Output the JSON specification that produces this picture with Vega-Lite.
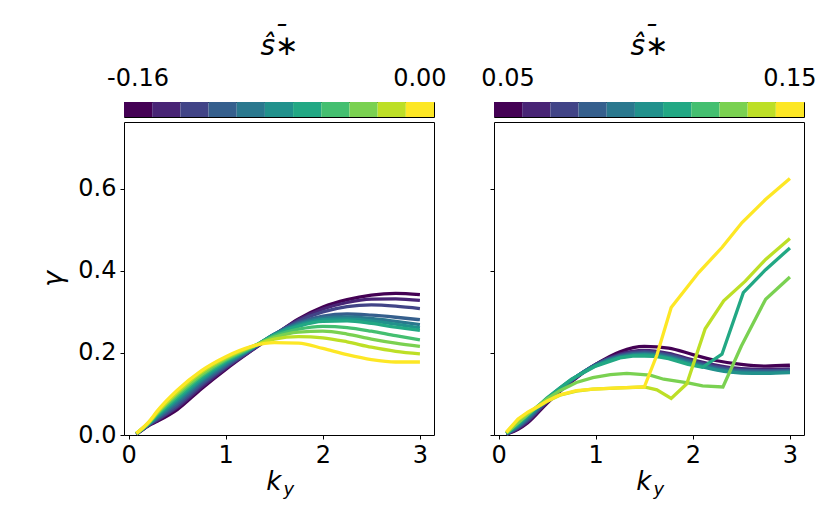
{
  "$schema": "https://vega.github.io/schema/vega-lite/v6.json",
  "background": "white",
  "padding": {"left": 39, "top": 21, "right": 5, "bottom": 5},
  "config": {
    "font": "DejaVu Sans",
    "view": {"stroke": "black", "strokeWidth": 1},
    "axis": {
      "grid": false, "domain": false,
      "tickColor": "black", "tickSize": 4, "tickWidth": 1,
      "labelColor": "black", "labelFontSize": 24, "labelFont": "DejaVu Sans", "labelPadding": 4,
      "titleFont": "DejaVu Sans", "titleColor": "black", "titleFontWeight": "normal"
    },
    "text": {"font": "DejaVu Sans", "fontStyle": "italic", "color": "black"}
  },
  "datasets": {
    "cbL": [{"s": -0.16}, {"s": -0.144}, {"s": -0.128}, {"s": -0.112}, {"s": -0.096}, {"s": -0.08}, {"s": -0.064}, {"s": -0.048}, {"s": -0.032}, {"s": -0.016}, {"s": 0}],
    "cbR": [{"s": 0.05}, {"s": 0.06}, {"s": 0.07}, {"s": 0.08}, {"s": 0.09}, {"s": 0.1}, {"s": 0.11}, {"s": 0.12}, {"s": 0.13}, {"s": 0.14}, {"s": 0.15}],
    "lab": [{"k": "k", "sub": "y"}],
    "L": [
      {"s": -0.16, "k": 0.08, "g": 0.002}, {"s": -0.16, "k": 0.2, "g": 0.022}, {"s": -0.16, "k": 0.3, "g": 0.034}, {"s": -0.16, "k": 0.5, "g": 0.062}, {"s": -0.16, "k": 0.75, "g": 0.113}, {"s": -0.16, "k": 1, "g": 0.16}, {"s": -0.16, "k": 1.25, "g": 0.203}, {"s": -0.16, "k": 1.5, "g": 0.243}, {"s": -0.16, "k": 1.75, "g": 0.283}, {"s": -0.16, "k": 2, "g": 0.312}, {"s": -0.16, "k": 2.25, "g": 0.33}, {"s": -0.16, "k": 2.5, "g": 0.341}, {"s": -0.16, "k": 2.75, "g": 0.345}, {"s": -0.16, "k": 3, "g": 0.342},
      {"s": -0.144, "k": 0.08, "g": 0.002}, {"s": -0.144, "k": 0.2, "g": 0.023}, {"s": -0.144, "k": 0.3, "g": 0.037}, {"s": -0.144, "k": 0.5, "g": 0.067}, {"s": -0.144, "k": 0.75, "g": 0.117}, {"s": -0.144, "k": 1, "g": 0.163}, {"s": -0.144, "k": 1.25, "g": 0.204}, {"s": -0.144, "k": 1.5, "g": 0.244}, {"s": -0.144, "k": 1.75, "g": 0.281}, {"s": -0.144, "k": 2, "g": 0.307}, {"s": -0.144, "k": 2.25, "g": 0.323}, {"s": -0.144, "k": 2.5, "g": 0.331}, {"s": -0.144, "k": 2.75, "g": 0.332}, {"s": -0.144, "k": 3, "g": 0.328},
      {"s": -0.128, "k": 0.08, "g": 0.002}, {"s": -0.128, "k": 0.2, "g": 0.024}, {"s": -0.128, "k": 0.3, "g": 0.039}, {"s": -0.128, "k": 0.5, "g": 0.071}, {"s": -0.128, "k": 0.75, "g": 0.122}, {"s": -0.128, "k": 1, "g": 0.166}, {"s": -0.128, "k": 1.25, "g": 0.205}, {"s": -0.128, "k": 1.5, "g": 0.245}, {"s": -0.128, "k": 1.75, "g": 0.278}, {"s": -0.128, "k": 2, "g": 0.3}, {"s": -0.128, "k": 2.25, "g": 0.313}, {"s": -0.128, "k": 2.5, "g": 0.317}, {"s": -0.128, "k": 2.75, "g": 0.314}, {"s": -0.128, "k": 3, "g": 0.308},
      {"s": -0.112, "k": 0.08, "g": 0.003}, {"s": -0.112, "k": 0.2, "g": 0.024}, {"s": -0.112, "k": 0.3, "g": 0.042}, {"s": -0.112, "k": 0.5, "g": 0.076}, {"s": -0.112, "k": 0.75, "g": 0.126}, {"s": -0.112, "k": 1, "g": 0.169}, {"s": -0.112, "k": 1.25, "g": 0.207}, {"s": -0.112, "k": 1.5, "g": 0.246}, {"s": -0.112, "k": 1.75, "g": 0.274}, {"s": -0.112, "k": 2, "g": 0.29}, {"s": -0.112, "k": 2.25, "g": 0.295}, {"s": -0.112, "k": 2.5, "g": 0.292}, {"s": -0.112, "k": 2.75, "g": 0.287}, {"s": -0.112, "k": 3, "g": 0.281},
      {"s": -0.096, "k": 0.08, "g": 0.003}, {"s": -0.096, "k": 0.2, "g": 0.025}, {"s": -0.096, "k": 0.3, "g": 0.044}, {"s": -0.096, "k": 0.5, "g": 0.081}, {"s": -0.096, "k": 0.75, "g": 0.131}, {"s": -0.096, "k": 1, "g": 0.172}, {"s": -0.096, "k": 1.25, "g": 0.208}, {"s": -0.096, "k": 1.5, "g": 0.246}, {"s": -0.096, "k": 1.75, "g": 0.271}, {"s": -0.096, "k": 2, "g": 0.285}, {"s": -0.096, "k": 2.25, "g": 0.288}, {"s": -0.096, "k": 2.5, "g": 0.284}, {"s": -0.096, "k": 2.75, "g": 0.277}, {"s": -0.096, "k": 3, "g": 0.269},
      {"s": -0.08, "k": 0.08, "g": 0.003}, {"s": -0.08, "k": 0.2, "g": 0.026}, {"s": -0.08, "k": 0.3, "g": 0.047}, {"s": -0.08, "k": 0.5, "g": 0.086}, {"s": -0.08, "k": 0.75, "g": 0.135}, {"s": -0.08, "k": 1, "g": 0.176}, {"s": -0.08, "k": 1.25, "g": 0.209}, {"s": -0.08, "k": 1.5, "g": 0.245}, {"s": -0.08, "k": 1.75, "g": 0.268}, {"s": -0.08, "k": 2, "g": 0.281}, {"s": -0.08, "k": 2.25, "g": 0.283}, {"s": -0.08, "k": 2.5, "g": 0.278}, {"s": -0.08, "k": 2.75, "g": 0.27}, {"s": -0.08, "k": 3, "g": 0.261},
      {"s": -0.064, "k": 0.08, "g": 0.003}, {"s": -0.064, "k": 0.2, "g": 0.027}, {"s": -0.064, "k": 0.3, "g": 0.05}, {"s": -0.064, "k": 0.5, "g": 0.09}, {"s": -0.064, "k": 0.75, "g": 0.139}, {"s": -0.064, "k": 1, "g": 0.179}, {"s": -0.064, "k": 1.25, "g": 0.21}, {"s": -0.064, "k": 1.5, "g": 0.244}, {"s": -0.064, "k": 1.75, "g": 0.265}, {"s": -0.064, "k": 2, "g": 0.277}, {"s": -0.064, "k": 2.25, "g": 0.278}, {"s": -0.064, "k": 2.5, "g": 0.272}, {"s": -0.064, "k": 2.75, "g": 0.263}, {"s": -0.064, "k": 3, "g": 0.255},
      {"s": -0.048, "k": 0.08, "g": 0.003}, {"s": -0.048, "k": 0.2, "g": 0.028}, {"s": -0.048, "k": 0.3, "g": 0.052}, {"s": -0.048, "k": 0.5, "g": 0.095}, {"s": -0.048, "k": 0.75, "g": 0.144}, {"s": -0.048, "k": 1, "g": 0.182}, {"s": -0.048, "k": 1.25, "g": 0.211}, {"s": -0.048, "k": 1.5, "g": 0.241}, {"s": -0.048, "k": 1.75, "g": 0.258}, {"s": -0.048, "k": 2, "g": 0.265}, {"s": -0.048, "k": 2.25, "g": 0.262}, {"s": -0.048, "k": 2.5, "g": 0.253}, {"s": -0.048, "k": 2.75, "g": 0.242}, {"s": -0.048, "k": 3, "g": 0.232},
      {"s": -0.032, "k": 0.08, "g": 0.004}, {"s": -0.032, "k": 0.2, "g": 0.028}, {"s": -0.032, "k": 0.3, "g": 0.055}, {"s": -0.032, "k": 0.5, "g": 0.1}, {"s": -0.032, "k": 0.75, "g": 0.148}, {"s": -0.032, "k": 1, "g": 0.185}, {"s": -0.032, "k": 1.25, "g": 0.213}, {"s": -0.032, "k": 1.5, "g": 0.238}, {"s": -0.032, "k": 1.75, "g": 0.251}, {"s": -0.032, "k": 2, "g": 0.253}, {"s": -0.032, "k": 2.25, "g": 0.246}, {"s": -0.032, "k": 2.5, "g": 0.234}, {"s": -0.032, "k": 2.75, "g": 0.224}, {"s": -0.032, "k": 3, "g": 0.216},
      {"s": -0.016, "k": 0.08, "g": 0.004}, {"s": -0.016, "k": 0.2, "g": 0.029}, {"s": -0.016, "k": 0.3, "g": 0.057}, {"s": -0.016, "k": 0.5, "g": 0.104}, {"s": -0.016, "k": 0.75, "g": 0.153}, {"s": -0.016, "k": 1, "g": 0.188}, {"s": -0.016, "k": 1.25, "g": 0.214}, {"s": -0.016, "k": 1.5, "g": 0.234}, {"s": -0.016, "k": 1.75, "g": 0.24}, {"s": -0.016, "k": 2, "g": 0.237}, {"s": -0.016, "k": 2.25, "g": 0.227}, {"s": -0.016, "k": 2.5, "g": 0.214}, {"s": -0.016, "k": 2.75, "g": 0.204}, {"s": -0.016, "k": 3, "g": 0.198},
      {"s": 0, "k": 0.08, "g": 0.004}, {"s": 0, "k": 0.2, "g": 0.03}, {"s": 0, "k": 0.3, "g": 0.06}, {"s": 0, "k": 0.5, "g": 0.109}, {"s": 0, "k": 0.75, "g": 0.157}, {"s": 0, "k": 1, "g": 0.191}, {"s": 0, "k": 1.25, "g": 0.215}, {"s": 0, "k": 1.5, "g": 0.225}, {"s": 0, "k": 1.75, "g": 0.224}, {"s": 0, "k": 2, "g": 0.211}, {"s": 0, "k": 2.25, "g": 0.196}, {"s": 0, "k": 2.5, "g": 0.184}, {"s": 0, "k": 2.75, "g": 0.178}, {"s": 0, "k": 3, "g": 0.178}
    ],
    "Rs": [
      {"s": 0.05, "k": 0.08, "g": 0.002}, {"s": 0.05, "k": 0.2, "g": 0.014}, {"s": 0.05, "k": 0.3, "g": 0.03}, {"s": 0.05, "k": 0.5, "g": 0.078}, {"s": 0.05, "k": 0.75, "g": 0.13}, {"s": 0.05, "k": 1, "g": 0.172}, {"s": 0.05, "k": 1.25, "g": 0.203}, {"s": 0.05, "k": 1.5, "g": 0.216}, {"s": 0.05, "k": 1.75, "g": 0.212}, {"s": 0.05, "k": 2, "g": 0.196}, {"s": 0.05, "k": 2.25, "g": 0.181}, {"s": 0.05, "k": 2.5, "g": 0.172}, {"s": 0.05, "k": 2.75, "g": 0.168}, {"s": 0.05, "k": 3, "g": 0.17},
      {"s": 0.06, "k": 0.08, "g": 0.002}, {"s": 0.06, "k": 0.2, "g": 0.016}, {"s": 0.06, "k": 0.3, "g": 0.033}, {"s": 0.06, "k": 0.5, "g": 0.081}, {"s": 0.06, "k": 0.75, "g": 0.132}, {"s": 0.06, "k": 1, "g": 0.172}, {"s": 0.06, "k": 1.25, "g": 0.197}, {"s": 0.06, "k": 1.5, "g": 0.206}, {"s": 0.06, "k": 1.75, "g": 0.199}, {"s": 0.06, "k": 2, "g": 0.183}, {"s": 0.06, "k": 2.25, "g": 0.17}, {"s": 0.06, "k": 2.5, "g": 0.162}, {"s": 0.06, "k": 2.75, "g": 0.16}, {"s": 0.06, "k": 3, "g": 0.161},
      {"s": 0.07, "k": 0.08, "g": 0.003}, {"s": 0.07, "k": 0.2, "g": 0.018}, {"s": 0.07, "k": 0.3, "g": 0.036}, {"s": 0.07, "k": 0.5, "g": 0.083}, {"s": 0.07, "k": 0.75, "g": 0.133}, {"s": 0.07, "k": 1, "g": 0.172}, {"s": 0.07, "k": 1.25, "g": 0.195}, {"s": 0.07, "k": 1.5, "g": 0.203}, {"s": 0.07, "k": 1.75, "g": 0.196}, {"s": 0.07, "k": 2, "g": 0.18}, {"s": 0.07, "k": 2.25, "g": 0.166}, {"s": 0.07, "k": 2.5, "g": 0.159}, {"s": 0.07, "k": 2.75, "g": 0.157}, {"s": 0.07, "k": 3, "g": 0.158},
      {"s": 0.08, "k": 0.08, "g": 0.003}, {"s": 0.08, "k": 0.2, "g": 0.02}, {"s": 0.08, "k": 0.3, "g": 0.039}, {"s": 0.08, "k": 0.5, "g": 0.085}, {"s": 0.08, "k": 0.75, "g": 0.134}, {"s": 0.08, "k": 1, "g": 0.171}, {"s": 0.08, "k": 1.25, "g": 0.193}, {"s": 0.08, "k": 1.5, "g": 0.2}, {"s": 0.08, "k": 1.75, "g": 0.193}, {"s": 0.08, "k": 2, "g": 0.177}, {"s": 0.08, "k": 2.25, "g": 0.163}, {"s": 0.08, "k": 2.5, "g": 0.156}, {"s": 0.08, "k": 2.75, "g": 0.155}, {"s": 0.08, "k": 3, "g": 0.156},
      {"s": 0.09, "k": 0.08, "g": 0.003}, {"s": 0.09, "k": 0.2, "g": 0.022}, {"s": 0.09, "k": 0.3, "g": 0.042}, {"s": 0.09, "k": 0.5, "g": 0.087}, {"s": 0.09, "k": 0.75, "g": 0.134}, {"s": 0.09, "k": 1, "g": 0.17}, {"s": 0.09, "k": 1.25, "g": 0.191}, {"s": 0.09, "k": 1.5, "g": 0.198}, {"s": 0.09, "k": 1.75, "g": 0.19}, {"s": 0.09, "k": 2, "g": 0.174}, {"s": 0.09, "k": 2.25, "g": 0.16}, {"s": 0.09, "k": 2.5, "g": 0.153}, {"s": 0.09, "k": 2.75, "g": 0.152}, {"s": 0.09, "k": 3, "g": 0.154},
      {"s": 0.1, "k": 0.08, "g": 0.004}, {"s": 0.1, "k": 0.2, "g": 0.024}, {"s": 0.1, "k": 0.3, "g": 0.045}, {"s": 0.1, "k": 0.5, "g": 0.089}, {"s": 0.1, "k": 0.75, "g": 0.135}, {"s": 0.1, "k": 1, "g": 0.169}, {"s": 0.1, "k": 1.25, "g": 0.189}, {"s": 0.1, "k": 1.5, "g": 0.196}, {"s": 0.1, "k": 1.75, "g": 0.188}, {"s": 0.1, "k": 2, "g": 0.172}, {"s": 0.1, "k": 2.25, "g": 0.158}, {"s": 0.1, "k": 2.5, "g": 0.151}, {"s": 0.1, "k": 2.75, "g": 0.15}, {"s": 0.1, "k": 3, "g": 0.152}
    ],
    "Rk": [
      {"s": 0.11, "k": 0.08, "g": 0.004}, {"s": 0.11, "k": 0.2, "g": 0.026}, {"s": 0.11, "k": 0.3, "g": 0.048}, {"s": 0.11, "k": 0.5, "g": 0.091}, {"s": 0.11, "k": 0.75, "g": 0.136}, {"s": 0.11, "k": 1, "g": 0.168}, {"s": 0.11, "k": 1.25, "g": 0.188}, {"s": 0.11, "k": 1.4, "g": 0.193}, {"s": 0.11, "k": 1.6, "g": 0.192}, {"s": 0.11, "k": 1.75, "g": 0.186}, {"s": 0.11, "k": 1.95, "g": 0.172}, {"s": 0.11, "k": 2.1, "g": 0.165}, {"s": 0.11, "k": 2.3, "g": 0.197}, {"s": 0.11, "k": 2.52, "g": 0.347}, {"s": 0.11, "k": 2.75, "g": 0.403}, {"s": 0.11, "k": 3, "g": 0.456},
      {"s": 0.13, "k": 0.08, "g": 0.005}, {"s": 0.13, "k": 0.2, "g": 0.03}, {"s": 0.13, "k": 0.3, "g": 0.05}, {"s": 0.13, "k": 0.4, "g": 0.07}, {"s": 0.13, "k": 0.5, "g": 0.088}, {"s": 0.13, "k": 0.63, "g": 0.108}, {"s": 0.13, "k": 0.8, "g": 0.128}, {"s": 0.13, "k": 0.97, "g": 0.14}, {"s": 0.13, "k": 1.15, "g": 0.147}, {"s": 0.13, "k": 1.32, "g": 0.15}, {"s": 0.13, "k": 1.56, "g": 0.146}, {"s": 0.13, "k": 1.7, "g": 0.136}, {"s": 0.13, "k": 1.95, "g": 0.127}, {"s": 0.13, "k": 2.1, "g": 0.12}, {"s": 0.13, "k": 2.31, "g": 0.117}, {"s": 0.13, "k": 2.5, "g": 0.217}, {"s": 0.13, "k": 2.75, "g": 0.331}, {"s": 0.13, "k": 3, "g": 0.385},
      {"s": 0.14, "k": 0.08, "g": 0.006}, {"s": 0.14, "k": 0.2, "g": 0.037}, {"s": 0.14, "k": 0.3, "g": 0.054}, {"s": 0.14, "k": 0.4, "g": 0.068}, {"s": 0.14, "k": 0.5, "g": 0.082}, {"s": 0.14, "k": 0.63, "g": 0.097}, {"s": 0.14, "k": 0.8, "g": 0.107}, {"s": 0.14, "k": 0.97, "g": 0.112}, {"s": 0.14, "k": 1.25, "g": 0.115}, {"s": 0.14, "k": 1.5, "g": 0.117}, {"s": 0.14, "k": 1.63, "g": 0.11}, {"s": 0.14, "k": 1.777, "g": 0.089}, {"s": 0.14, "k": 1.938, "g": 0.125}, {"s": 0.14, "k": 2.127, "g": 0.259}, {"s": 0.14, "k": 2.318, "g": 0.327}, {"s": 0.14, "k": 2.54, "g": 0.375}, {"s": 0.14, "k": 2.75, "g": 0.428}, {"s": 0.14, "k": 3, "g": 0.479},
      {"s": 0.15, "k": 0.08, "g": 0.007}, {"s": 0.15, "k": 0.2, "g": 0.039}, {"s": 0.15, "k": 0.3, "g": 0.056}, {"s": 0.15, "k": 0.4, "g": 0.069}, {"s": 0.15, "k": 0.5, "g": 0.083}, {"s": 0.15, "k": 0.63, "g": 0.098}, {"s": 0.15, "k": 0.8, "g": 0.108}, {"s": 0.15, "k": 0.97, "g": 0.112}, {"s": 0.15, "k": 1.25, "g": 0.115}, {"s": 0.15, "k": 1.5, "g": 0.117}, {"s": 0.15, "k": 1.63, "g": 0.195}, {"s": 0.15, "k": 1.777, "g": 0.311}, {"s": 0.15, "k": 2.06, "g": 0.396}, {"s": 0.15, "k": 2.3, "g": 0.457}, {"s": 0.15, "k": 2.507, "g": 0.518}, {"s": 0.15, "k": 2.748, "g": 0.574}, {"s": 0.15, "k": 3, "g": 0.625}
    ]
  },
  "spacing": 33,
  "resolve": {"scale": {"color": "independent"}},
  "hconcat": [
    {
      "bounds": "flush",
      "spacing": 5,
      "vconcat": [
        {
          "width": 310,
          "height": 15,
          "data": {"name": "cbL"},
          "mark": {"type": "rect"},
          "encoding": {
            "x": {
              "field": "s", "type": "ordinal",
              "scale": {"domain": [-0.16, -0.144, -0.128, -0.112, -0.096, -0.08, -0.064, -0.048, -0.032, -0.016, 0], "paddingInner": 0, "paddingOuter": 0},
              "axis": {
                "orient": "top", "values": [-0.16, 0], "labelAngle": 0, "ticks": false,
                "labelExpr": "replace(format(datum.value, '.2f'), '\u2212', '-')",
                "labelPadding": 12, "labelOverlap": false,
                "title": ["\u00af\u00a0\u00a0\u00a0\u00a0", "s\u0302\u2217"], "titleLineHeight": 10,
                "titleFontSize": 28, "titleFontStyle": "italic", "titlePadding": 6
              }
            },
            "color": {
              "field": "s", "type": "ordinal", "legend": null,
              "scale": {"domain": [-0.16, -0.144, -0.128, -0.112, -0.096, -0.08, -0.064, -0.048, -0.032, -0.016, 0],
                        "range": ["#440154", "#482475", "#414487", "#355f8d", "#2a788e", "#21918c", "#22a884", "#44bf70", "#7ad151", "#bddf26", "#fde725"]}
            }
          }
        },
        {
          "width": 310,
          "height": 313,
          "layer": [
            {
              "data": {"name": "L"},
              "mark": {"type": "line", "strokeWidth": 3.3, "interpolate": "monotone", "strokeJoin": "round"},
              "encoding": {
                "x": {
                  "field": "k", "type": "quantitative",
                  "scale": {"domain": [-0.048, 3.145], "nice": false, "zero": false},
                  "axis": {"values": [0, 1, 2, 3], "format": "d", "title": null}
                },
                "y": {
                  "field": "g", "type": "quantitative",
                  "scale": {"domain": [0, 0.763], "nice": false},
                  "axis": {"values": [0, 0.2, 0.4, 0.6], "format": ".1f", "title": "\u03b3", "titleFontSize": 27, "titleFontStyle": "italic", "titlePadding": 10}
                },
                "color": {
                  "field": "s", "type": "ordinal", "legend": null,
                  "scale": {"domain": [-0.16, -0.144, -0.128, -0.112, -0.096, -0.08, -0.064, -0.048, -0.032, -0.016, 0],
                            "range": ["#440154", "#482475", "#414487", "#355f8d", "#2a788e", "#21918c", "#22a884", "#44bf70", "#7ad151", "#bddf26", "#fde725"]}
                }
              }
            },
            {
              "data": {"name": "lab"},
              "mark": {"type": "text", "fontSize": 26, "align": "center", "baseline": "alphabetic"},
              "encoding": {
                "x": {"datum": 1.496, "type": "quantitative", "scale": {"domain": [-0.048, 3.145], "nice": false, "zero": false}},
                "y": {"datum": -0.133, "type": "quantitative", "scale": {"domain": [0, 0.763], "nice": false}},
                "text": {"field": "k"}
              }
            },
            {
              "data": {"name": "lab"},
              "mark": {"type": "text", "fontSize": 18, "align": "center", "baseline": "alphabetic"},
              "encoding": {
                "x": {"datum": 1.65, "type": "quantitative", "scale": {"domain": [-0.048, 3.145], "nice": false, "zero": false}},
                "y": {"datum": -0.147, "type": "quantitative", "scale": {"domain": [0, 0.763], "nice": false}},
                "text": {"field": "sub"}
              }
            }
          ]
        }
      ]
    },
    {
      "bounds": "flush",
      "spacing": 5,
      "vconcat": [
        {
          "width": 310,
          "height": 15,
          "data": {"name": "cbR"},
          "mark": {"type": "rect"},
          "encoding": {
            "x": {
              "field": "s", "type": "ordinal",
              "scale": {"domain": [0.05, 0.06, 0.07, 0.08, 0.09, 0.1, 0.11, 0.12, 0.13, 0.14, 0.15], "paddingInner": 0, "paddingOuter": 0},
              "axis": {
                "orient": "top", "values": [0.05, 0.15], "labelAngle": 0, "ticks": false,
                "labelExpr": "format(datum.value, '.2f')",
                "labelPadding": 12, "labelOverlap": false,
                "title": ["\u00af\u00a0\u00a0\u00a0\u00a0", "s\u0302\u2217"], "titleLineHeight": 10,
                "titleFontSize": 28, "titleFontStyle": "italic", "titlePadding": 6
              }
            },
            "color": {
              "field": "s", "type": "ordinal", "legend": null,
              "scale": {"domain": [0.05, 0.06, 0.07, 0.08, 0.09, 0.1, 0.11, 0.12, 0.13, 0.14, 0.15],
                        "range": ["#440154", "#482475", "#414487", "#355f8d", "#2a788e", "#21918c", "#22a884", "#44bf70", "#7ad151", "#bddf26", "#fde725"]}
            }
          }
        },
        {
          "width": 310,
          "height": 313,
          "layer": [
            {
              "data": {"name": "Rs"},
              "mark": {"type": "line", "strokeWidth": 3.3, "interpolate": "monotone", "strokeJoin": "round"},
              "encoding": {
                "x": {
                  "field": "k", "type": "quantitative",
                  "scale": {"domain": [-0.048, 3.145], "nice": false, "zero": false},
                  "axis": {"values": [0, 1, 2, 3], "format": "d", "title": null}
                },
                "y": {
                  "field": "g", "type": "quantitative",
                  "scale": {"domain": [0, 0.763], "nice": false},
                  "axis": {"values": [0, 0.2, 0.4, 0.6], "labels": false, "title": null}
                },
                "color": {
                  "field": "s", "type": "ordinal", "legend": null,
                  "scale": {"domain": [0.05, 0.06, 0.07, 0.08, 0.09, 0.1, 0.11, 0.12, 0.13, 0.14, 0.15],
                            "range": ["#440154", "#482475", "#414487", "#355f8d", "#2a788e", "#21918c", "#22a884", "#44bf70", "#7ad151", "#bddf26", "#fde725"]}
                }
              }
            },
            {
              "data": {"name": "Rk"},
              "mark": {"type": "line", "strokeWidth": 3.3, "strokeJoin": "miter"},
              "encoding": {
                "x": {"field": "k", "type": "quantitative", "scale": {"domain": [-0.048, 3.145], "nice": false, "zero": false}},
                "y": {"field": "g", "type": "quantitative", "scale": {"domain": [0, 0.763], "nice": false}},
                "color": {
                  "field": "s", "type": "ordinal", "legend": null,
                  "scale": {"domain": [0.05, 0.06, 0.07, 0.08, 0.09, 0.1, 0.11, 0.12, 0.13, 0.14, 0.15],
                            "range": ["#440154", "#482475", "#414487", "#355f8d", "#2a788e", "#21918c", "#22a884", "#44bf70", "#7ad151", "#bddf26", "#fde725"]}
                }
              }
            },
            {
              "data": {"name": "lab"},
              "mark": {"type": "text", "fontSize": 26, "align": "center", "baseline": "alphabetic"},
              "encoding": {
                "x": {"datum": 1.496, "type": "quantitative", "scale": {"domain": [-0.048, 3.145], "nice": false, "zero": false}},
                "y": {"datum": -0.133, "type": "quantitative", "scale": {"domain": [0, 0.763], "nice": false}},
                "text": {"field": "k"}
              }
            },
            {
              "data": {"name": "lab"},
              "mark": {"type": "text", "fontSize": 18, "align": "center", "baseline": "alphabetic"},
              "encoding": {
                "x": {"datum": 1.65, "type": "quantitative", "scale": {"domain": [-0.048, 3.145], "nice": false, "zero": false}},
                "y": {"datum": -0.147, "type": "quantitative", "scale": {"domain": [0, 0.763], "nice": false}},
                "text": {"field": "sub"}
              }
            }
          ]
        }
      ]
    }
  ]
}
